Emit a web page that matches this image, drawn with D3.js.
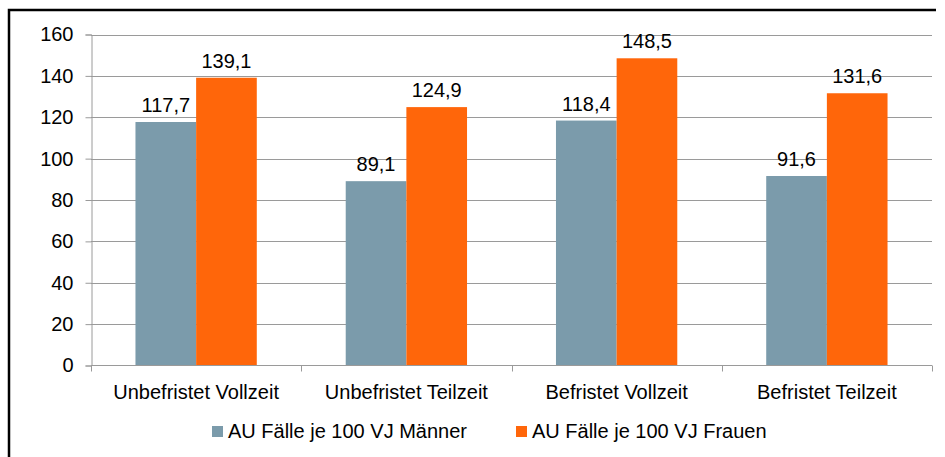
<!DOCTYPE html>
<html>
<head>
<meta charset="utf-8">
<script src="https://cdn.jsdelivr.net/npm/d3@7"></script>
<style>
  body { margin: 0; background: #fff; }
  text { font-family: "Liberation Sans", Arial, sans-serif; fill: #000; }
</style>
</head>
<body>
<svg width="945" height="457"></svg>
<script>
// data
var categories = ["Unbefristet Vollzeit", "Unbefristet Teilzeit", "Befristet Vollzeit", "Befristet Teilzeit"];
var seriesNames = ["AU Fälle je 100 VJ Männer", "AU Fälle je 100 VJ Frauen"];
var maenner = [117.7, 89.1, 118.4, 91.6];
var frauen = [139.1, 124.9, 148.5, 131.6];
var colors = ["#7b9bab", "#ff660a"];
var yTicks = [0, 20, 40, 60, 80, 100, 120, 140, 160];

var svg = d3.select("svg"),
    plotLeft = 91, plotRight = 932, plotTop = 34.5, plotBottom = 365.5;

// frame (only left and top edges visible)
svg.append("path")
    .attr("d", "M9,457 L9,10 L936,10")
    .attr("fill", "none")
    .attr("stroke", "#000")
    .attr("stroke-width", 2.5);

var x0 = d3.scaleBand().domain(categories).range([plotLeft, plotRight]);
var bw = x0.bandwidth();
var x1 = d3.scaleBand().domain(seriesNames).range([bw * 0.2115, bw * 0.7885]);
var y = d3.scaleLinear().domain([0, 160]).range([plotBottom, plotTop]);

var fmt = function(v) { return d3.format(".1f")(v).replace(".", ","); };

// gridlines
svg.append("g").selectAll("line")
    .data(yTicks.filter(function(t) { return t > 0; }))
    .enter().append("line")
    .attr("x1", plotLeft).attr("x2", plotRight)
    .attr("y1", function(d) { return Math.round(y(d)) + 0.5; })
    .attr("y2", function(d) { return Math.round(y(d)) + 0.5; })
    .attr("stroke", "#9a9a9a");

// y axis
var yAxis = svg.append("g")
    .attr("transform", "translate(" + (plotLeft + 0.5) + ",0)")
    .call(d3.axisLeft(y).tickValues(yTicks).tickSize(6).tickPadding(12));
yAxis.select(".domain").attr("stroke", "#9a9a9a");
yAxis.selectAll(".tick line").attr("stroke", "#9a9a9a");
yAxis.selectAll(".tick text")
    .style("font-size", "20px")
    .style("font-family", "Liberation Sans, Arial, sans-serif")
    .attr("fill", "#000");

// data rows
var rows = categories.map(function(c, i) {
    return { cat: c, values: [maenner[i], frauen[i]] };
});

var group = svg.selectAll(".cat")
    .data(rows)
    .enter().append("g")
    .attr("class", "cat")
    .attr("transform", function(d) { return "translate(" + x0(d.cat) + ",0)"; });

group.selectAll("rect")
    .data(function(d) { return d.values.map(function(v, j) { return { name: seriesNames[j], v: v, j: j }; }); })
    .enter().append("rect")
    .attr("x", function(d) { return x1(d.name); })
    .attr("width", x1.bandwidth())
    .attr("y", function(d) { return y(d.v); })
    .attr("height", function(d) { return plotBottom - y(d.v); })
    .attr("fill", function(d) { return colors[d.j]; });

group.selectAll(".val")
    .data(function(d) { return d.values.map(function(v, j) { return { name: seriesNames[j], v: v }; }); })
    .enter().append("text")
    .attr("class", "val")
    .attr("x", function(d) { return x1(d.name) + x1.bandwidth() / 2; })
    .attr("y", function(d) { return y(d.v) - 10; })
    .attr("text-anchor", "middle")
    .style("font-size", "20px")
    .text(function(d) { return fmt(d.v); });

// x axis
svg.append("line")
    .attr("x1", plotLeft).attr("x2", plotRight)
    .attr("y1", plotBottom).attr("y2", plotBottom)
    .attr("stroke", "#9a9a9a");

var bounds = categories.map(function(c) { return x0(c); }).concat([plotRight]);
svg.append("g").selectAll("line")
    .data(bounds)
    .enter().append("line")
    .attr("x1", function(d) { return Math.round(d) + 0.5; })
    .attr("x2", function(d) { return Math.round(d) + 0.5; })
    .attr("y1", plotBottom).attr("y2", plotBottom + 6)
    .attr("stroke", "#9a9a9a");

svg.append("g").selectAll("text")
    .data(categories)
    .enter().append("text")
    .attr("x", function(d) { return x0(d) + bw / 2; })
    .attr("y", 399)
    .attr("text-anchor", "middle")
    .style("font-size", "20px")
    .text(function(d) { return d; });

// legend
var legendX = [212, 516];
var legend = svg.selectAll(".legend")
    .data(seriesNames)
    .enter().append("g")
    .attr("class", "legend")
    .attr("transform", function(d, i) { return "translate(" + legendX[i] + ",426)"; });

legend.append("rect")
    .attr("width", 11).attr("height", 11)
    .attr("fill", function(d, i) { return colors[i]; });

legend.append("text")
    .attr("x", 16)
    .attr("y", 11.7)
    .style("font-size", "20px")
    .text(function(d) { return d; });
</script>
</body>
</html>
